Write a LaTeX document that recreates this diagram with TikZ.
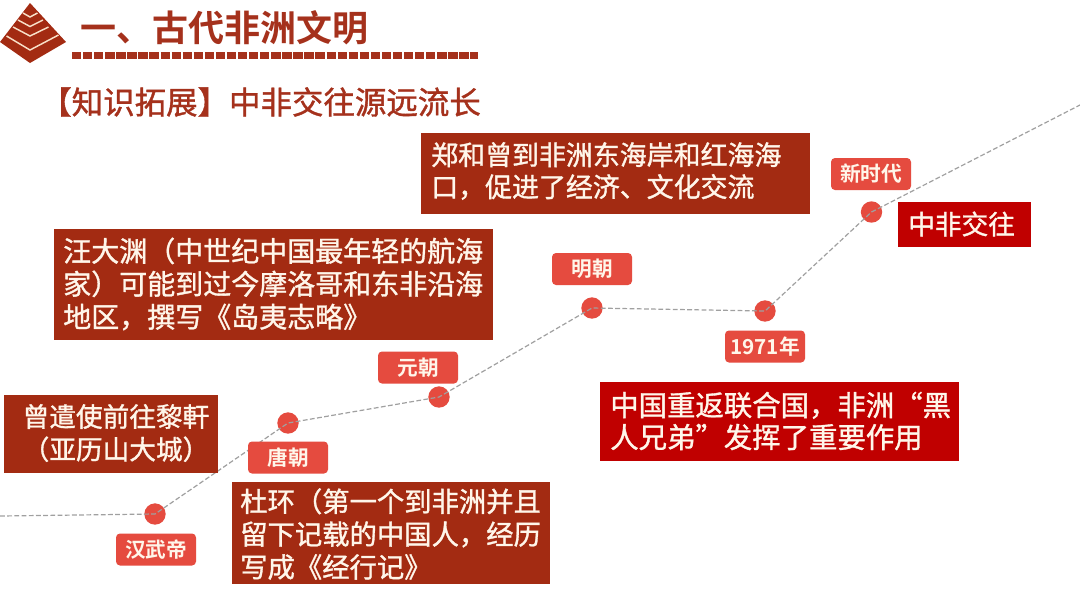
\documentclass[tikz,border=0pt]{standalone}
\usepackage{fontspec}
\setmainfont{Noto Sans CJK SC}[BoldFont={Noto Sans CJK SC Bold}]
\newfontfamily\bodyfont{Noto Sans CJK SC}[FakeBold=1.2]
\newfontfamily\labelfont{Noto Sans CJK SC Bold}
\definecolor{boxred}{HTML}{A32B12}
\definecolor{titlered}{HTML}{A5311C}
\definecolor{deepred}{HTML}{C00000}
\definecolor{tagred}{HTML}{E54B3F}
\definecolor{cream}{HTML}{FFF6EA}
\definecolor{chev}{HTML}{F8E0C8}
\definecolor{linegray}{HTML}{A0A0A0}
\tikzset{
  px/.style={x=0.75pt,y=-0.75pt},
  tag/.style={fill=tagred,rounded corners=3pt,text=cream,font=\fontsize{15.5}{18}\labelfont,minimum width=60pt,minimum height=24pt,inner sep=0pt},
  dot/.style={circle,fill=tagred,minimum size=16pt,inner sep=0pt},
  trail/.style={draw=linegray,dash pattern=on 3.6pt off 1.8pt,line width=0.9pt},
  headline/.style={text=titlered,inner sep=0pt,anchor=west},
  boxtext/.style={inner sep=0pt,text=cream,align=left,anchor=west}
}
\begin{document}
\begin{tikzpicture}[px]
\useasboundingbox[fill=white] (0,0) rectangle (1080,608);
% pyramid
\fill[boxred] (30,3) -- (66,42) -- (30,63) -- (0,42) -- cycle;
\draw[chev,line width=1.1pt] (23,13) -- (30,17) -- (37.5,13);
\draw[chev,line width=1.1pt] (18,20) -- (30,26.5) -- (43,20);
\draw[chev,line width=1.1pt] (13,27) -- (30,36) -- (48.5,27);
\draw[chev,line width=1.1pt] (6.5,36) -- (30,50) -- (58.5,35);
% title
\node[headline,font=\fontsize{27}{30}\bfseries] (title) at (80,28) {一、古代非洲文明};
\coordinate (ruleL) at (72,55.5);
\coordinate (ruleR) at (478,55.5);
\draw[titlered,line width=5.5pt,dash pattern=on 7pt off 1.3pt] (ruleL) -- (ruleR);
\node[headline,font=\fontsize{23.6}{26}\bodyfont] (sub) at (40,102) {【知识拓展】中非交往源远流长};
% dots and trail
\coordinate (start) at (0,516);
\coordinate (finish) at (1080,105);
\node[dot] (d1) at (155,514) {};
\node[dot] (d2) at (288,423) {};
\node[dot] (d3) at (439,397) {};
\node[dot] (d4) at (592,308) {};
\node[dot] (d5) at (765,311) {};
\node[dot] (d6) at (871.5,212) {};
\draw[trail] (start) -- (d1.center) -- (d2.center) -- (d3.center) -- (d4.center) -- (d5.center) -- (d6.center) -- (finish);
% tags
\node[tag] (t1) at (156,549.5) {汉武帝};
\node[tag] (t2) at (288,457.5) {唐朝};
\node[tag] (t3) at (418,367.5) {元朝};
\node[tag] (t4) at (592,269) {明朝};
\node[tag] (t5) at (765,346.5) {1971年};
\node[tag] (t6) at (871,174) {新时代};
% boxes
\fill[boxred] (4,395) rectangle (218,473);
\node[boxtext,align=center,anchor=center,font=\fontsize{20}{24.5}\bodyfont] (b1) at (116,433) {曾遣使前往黎軒\\（亚历山大城）};
\fill[boxred] (232,482) rectangle (550,584);
\node[boxtext,font=\fontsize{20.5}{24.6}\bodyfont] (b2) at (240,534) {杜环（第一个到非洲并且\\留下记载的中国人，经历\\写成《经行记》};
\fill[boxred] (54,229) rectangle (493,340);
\node[boxtext,font=\fontsize{21}{24.7}\bodyfont] (b3) at (63,284) {汪大渊（中世纪中国最年轻的航海\\家）可能到过今摩洛哥和东非沿海\\地区，撰写《岛夷志略》};
\fill[boxred] (421,133) rectangle (810,214);
\node[boxtext,font=\fontsize{20.2}{24}\bodyfont] (b4) at (431,171) {郑和曾到非洲东海岸和红海海\\口，促进了经济、文化交流};
\fill[deepred] (600,382) rectangle (959,461);
\node[boxtext,font=\fontsize{21.3}{24}\bodyfont] (b5) at (610,421) {中国重返联合国，非洲“黑\\人兄弟”发挥了重要作用};
\fill[deepred] (898,202) rectangle (1031,247);
\node[boxtext,font=\fontsize{20}{24}\bodyfont] (b6) at (908,224) {中非交往};
\end{tikzpicture}
\end{document}
